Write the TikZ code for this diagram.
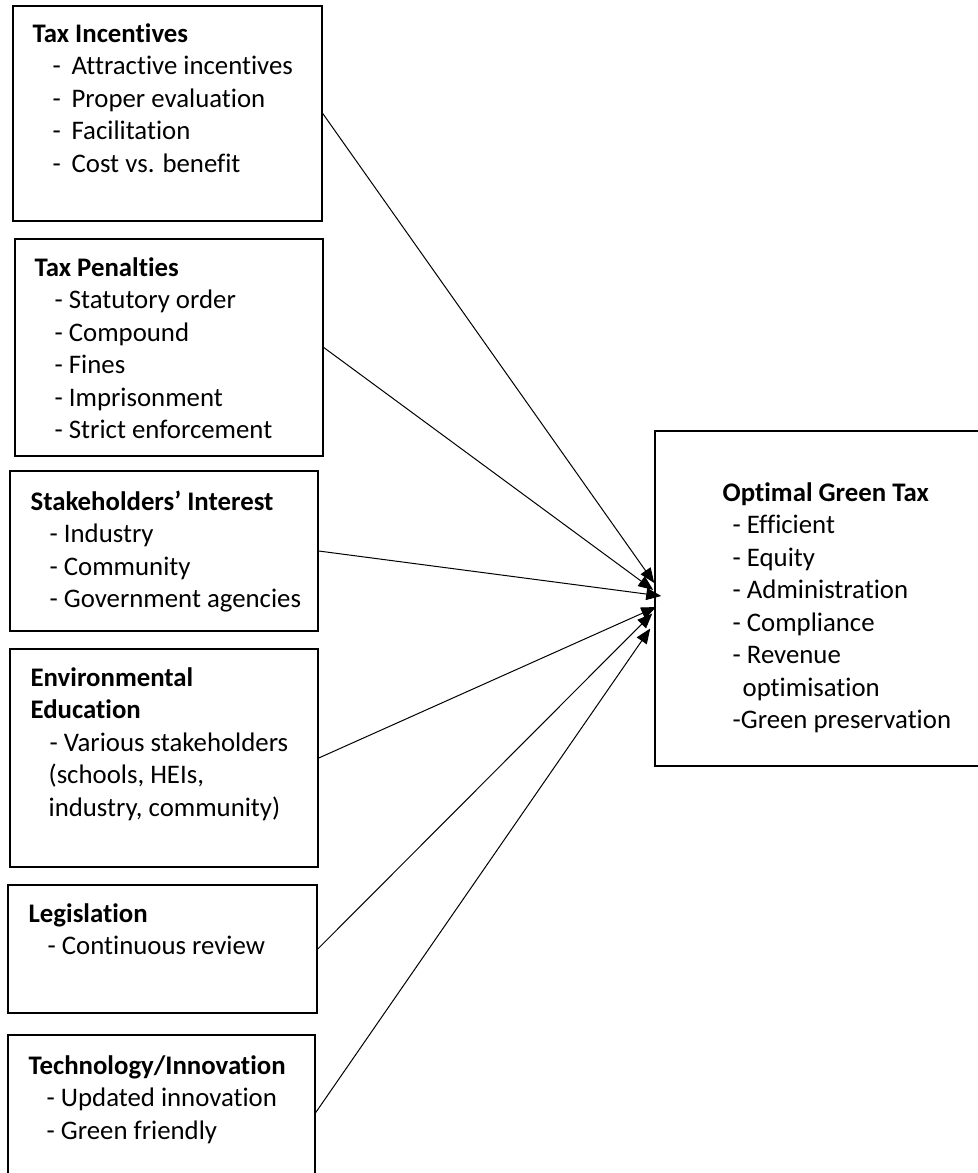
\documentclass[tikz,border=0pt]{standalone}
\usepackage{fontspec}
\setmainfont{Carlito}[Ligatures=NoCommon]
\usetikzlibrary{arrows.meta,calc}

\newcommand{\itm}{\hspace*{10pt}- }
\newcommand{\tabdash}{\hspace*{10pt}\makebox[9.5pt][l]{-}}

\begin{document}
\begin{tikzpicture}[
    x=0.5pt, y=-0.5pt,
    font=\fontsize{13.4}{16.25}\selectfont,
    >={Triangle[length=7.5pt, width=6pt]},
    box/.style={draw=black, line width=0.75pt, rectangle, inner sep=0pt},
    txt/.style={anchor=north west, align=left, inner sep=0pt},
    arrow/.style={black, ->, line width=0.5pt},
]
    \useasboundingbox (0,0) rectangle (978,1173);

    % =====================================================================
    % LEFT COLUMN: DETERMINANTS
    % =====================================================================
    \node[box, minimum width=154.5pt, minimum height=107.5pt] (ti) at (167.5, 113.5) {};
    \node[txt] (ti_t) at ($(ti.north west)+(20,18)$) {\textbf{Tax Incentives}\\\tabdash Attractive incentives\\\tabdash Proper evaluation\\\tabdash Facilitation\\\tabdash Cost vs. benefit};

    \node[box, minimum width=154pt, minimum height=108.5pt] (tp) at (169, 347.5) {};
    \node[txt] (tp_t) at ($(tp.north west)+(20,19)$) {\textbf{Tax Penalties}\\\itm Statutory order\\\itm Compound\\\itm Fines\\\itm Imprisonment\\\itm Strict enforcement};

    \node[box, minimum width=154pt, minimum height=80pt] (si) at (164, 551) {};
    \node[txt] (si_t) at ($(si.north west)+(21,20)$) {\textbf{Stakeholders’ Interest}\\\hspace*{9.5pt}- Industry\\\hspace*{9.5pt}- Community\\\hspace*{9.5pt}- Government agencies};

    \node[box, minimum width=154pt, minimum height=109pt] (ee) at (164, 758) {};
    \node[txt] (ee_t) at ($(ee.north west)+(21,19)$) {\textbf{Environmental}\\\textbf{Education}\\\hspace*{9.5pt}- Various stakeholders\\\hspace*{9pt}(schools, HEIs,\\\hspace*{9pt}industry, community)};

    \node[box, minimum width=154.5pt, minimum height=64pt] (lg) at (162.5, 949) {};
    \node[txt] (lg_t) at ($(lg.north west)+(21,19)$) {\textbf{Legislation}\\\hspace*{9.5pt}- Continuous review};

    \node[box, minimum width=153.5pt, minimum height=77.5pt] (tc) at (161.5, 1112.5) {};
    \node[txt] (tc_t) at ($(tc.north west)+(21,21)$) {\textbf{Technology/Innovation}\\\hspace*{9pt}- Updated innovation\\\hspace*{9pt}- Green friendly};

    % =====================================================================
    % RIGHT: OUTCOME
    % =====================================================================
    \node[box, minimum width=167.5pt, minimum height=167.5pt] (ogt) at (822.5, 598.5) {};
    \node[txt] (ogt_t) at ($(ogt.north west)+(68,52)$) {\textbf{Optimal Green Tax}\\\hspace*{5pt}- Efficient\\\hspace*{5pt}- Equity\\\hspace*{5pt}- Administration\\\hspace*{5pt}- Compliance\\\hspace*{5pt}- Revenue\\\hspace*{10pt}optimisation\\\hspace*{5pt}-Green preservation};

    % arrow ends on the outcome box
    \coordinate (in1) at ($(ogt.west)+(0,-15.5)$);
    \coordinate (in2) at ($(ogt.west)+(-1,-8.5)$);
    \coordinate (in3) at ($(ogt.west)+(7,-2.5)$);
    \coordinate (in4) at ($(ogt.west)+(2,8.5)$);
    \coordinate (in5) at ($(ogt.west)+(-2,15)$);
    \coordinate (in6) at ($(ogt.west)+(-4,30)$);

    \draw[arrow] (ti.east) -- (in1);
    \draw[arrow] (tp.east) -- (in2);
    \draw[arrow] (si.east) -- (in3);
    \draw[arrow] (ee.east) -- (in4);
    \draw[arrow] (lg.east) -- (in5);
    \draw[arrow] (tc.east) -- (in6);

\end{tikzpicture}
\end{document}
